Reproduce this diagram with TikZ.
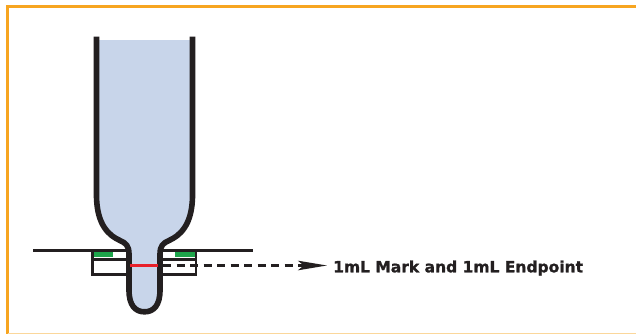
\documentclass[tikz,border=0pt]{standalone}
\usepackage{fontspec}
\usetikzlibrary{arrows.meta}
\newfontfamily\labelfont{DejaVu Sans}[BoldFeatures={FakeBold=1.2}]
\definecolor{frameorange}{RGB}{247,165,32}
\definecolor{inkblack}{RGB}{35,31,32}
\definecolor{liquidblue}{RGB}{200,213,234}
\definecolor{markgreen}{RGB}{30,165,75}
\definecolor{markred}{RGB}{232,32,42}
\tikzset{
  frameline/.style={draw=frameorange, line width=3pt},
  plate/.style={draw=inkblack, line width=2.8pt},
  tubewall/.style={draw=inkblack, line width=5.6pt, line join=round},
  greenbar/.style={fill=markgreen},
  redmark/.style={draw=markred, line width=2.6pt},
  leader/.style={draw=inkblack, line width=2.4pt, dash pattern=on 8pt off 5.5pt,
    -{Stealth[length=29pt, width=9.5pt, inset=6pt]}},
  calloutlabel/.style={inner sep=0pt, font=\labelfont\bfseries\fontsize{15.5pt}{18pt}\selectfont, text=inkblack},
}
\begin{document}
\begin{tikzpicture}[x=1pt, y=-1pt]
  \useasboundingbox (0,0) rectangle (636,333);
  \fill[white] (0,0) rectangle (636,333);
  % orange frame
  \begin{scope}
    \clip (0,0) rectangle (636,333);
    \draw[frameline] (7.5,340) -- (7.5,6.5) -- (650,6.5);
    \draw[frameline, draw=frameorange!45] (7.5,334) -- (650,334);
  \end{scope}
  % stand: surface line and holder box
  \draw[plate] (33,250.5) -- (253,250.5);
  \draw[plate] (92.7,250) -- (92.7,274.7) -- (196,274.7) -- (196,250);
  \draw[draw=inkblack, line width=2.4pt] (92.7,259.5) -- (196,259.5);
  % green reference bars
  \fill[greenbar] (94,252.3) rectangle (113,256.7);
  \fill[greenbar] (175,252.3) rectangle (194.6,256.7);
  % tube contents
  \fill[liquidblue] (96.5,40) -- (96.5,195)
    .. controls (96.5,226) and (110,236) .. (120,240.5)
    .. controls (126,243) and (129,246) .. (129,254)
    -- (129,290) .. controls (129,305) and (135,311.8) .. (144.5,311.8)
    .. controls (154,311.8) and (160,305) .. (160,290)
    -- (160,254) .. controls (160,246) and (163,243) .. (169,240.5)
    .. controls (179,236) and (192.5,226) .. (192.5,195)
    -- (192.5,40) -- cycle;
  % tube wall
  \draw[tubewall] (96.5,36.5) -- (96.5,195)
    .. controls (96.5,226) and (110,236) .. (120,240.5)
    .. controls (126,243) and (129,246) .. (129,254)
    -- (129,290) .. controls (129,305) and (135,311.8) .. (144.5,311.8)
    .. controls (154,311.8) and (160,305) .. (160,290)
    -- (160,254) .. controls (160,246) and (163,243) .. (169,240.5)
    .. controls (179,236) and (192.5,226) .. (192.5,195)
    -- (192.5,36.5);
  % 1 mL mark
  \coordinate (markL) at (130,265.5);
  \coordinate (markR) at (158,265.5);
  \draw[redmark] (markL) -- (markR);
  % leader to label
  \coordinate (neckR) at (163,265.5);
  \coordinate (tip) at (327,265.5);
  \node[calloutlabel, anchor=base west] (label) at (333,272.3) {1mL Mark and 1mL Endpoint};
  \draw[leader] (neckR) -- (tip);
\end{tikzpicture}
\end{document}
